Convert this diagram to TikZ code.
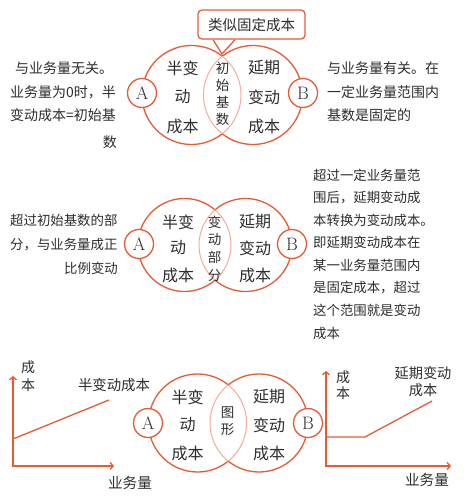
\documentclass[tikz,border=0pt]{standalone}
\usepackage{fontspec}
\newfontfamily\cjk{Noto Sans CJK SC}
\usetikzlibrary{arrows.meta}
\definecolor{acc}{RGB}{229,92,52}
\definecolor{txt}{RGB}{45,45,45}
\newcommand{\vennpair}[4]{%
  \pgfmathsetmacro{\vennang}{acos((#2-#1)/(2*#4))}%
  \draw[vline] (#1,#3) ++(\vennang:#4) arc[start angle=\vennang, end angle=360-\vennang, radius=#4];
  \draw[vline] (#2,#3) ++(\vennang-180:#4) arc[start angle=\vennang-180, end angle=180-\vennang, radius=#4];
  \draw[lensline] (#1,#3) ++(-\vennang:#4) arc[start angle=-\vennang, end angle=\vennang, radius=#4];
  \draw[lensline] (#2,#3) ++(180-\vennang:#4) arc[start angle=180-\vennang, end angle=180+\vennang, radius=#4];
}
\tikzset{
  vline/.style={draw=acc, line width=1.3pt},
  lensline/.style={draw=acc!50, line width=1pt},
  abcirc/.style={circle, draw=acc, line width=1.3pt, fill=white, minimum size=29pt, inner sep=0pt, font=\fontsize{18}{18}\selectfont, text=txt},
  vtext/.style={font=\cjk\fontsize{16}{16}\selectfont, text=txt, inner sep=0pt},
  lenstext/.style={font=\cjk\fontsize{13.5}{17}\selectfont, text=txt, align=center, inner sep=0pt},
  side/.style={font=\cjk\fontsize{14}{14}\selectfont, text=txt, inner sep=0pt},
  sidem/.style={font=\cjk\fontsize{13.4}{13.4}\selectfont, text=txt, inner sep=0pt},
  axis/.style={draw=acc, line width=1.3pt},
  axisarrows/.style={axis, >={Straight Barb[length=3pt,width=7pt]}, <->},
  calloutbox/.style={draw=acc, line width=1.3pt, fill=white, rounded corners=4pt, minimum width=107pt, minimum height=29pt, inner sep=0pt, font=\cjk\fontsize{14.5}{14.5}\selectfont, text=txt},
}
\begin{document}
\begin{tikzpicture}[x=1pt,y=-1pt]
\useasboundingbox[fill=white] (0,0) rectangle (469,500);

% ---------- top ----------
\vennpair{191.5}{253}{95}{49.5}
\node[calloutbox] (call) at (251.5,24.5) {类似固定成本};
\coordinate (calltip) at (222,54);
\coordinate (callL) at ([xshift=-38.5pt]call.south);
\coordinate (callR) at ([xshift=-16.5pt]call.south);
\fill[white] ([yshift=-1pt]callL) -- (calltip) -- ([yshift=-1pt]callR) -- cycle;
\draw[vline, line join=miter] (callL) -- (calltip) -- (callR);
\node[abcirc] (A1) at (142,93) {A};
\node[abcirc] (B1) at (303,93) {B};
\node[vtext] (t1a) at (182.5,68) {半变};
\node[vtext] (t1b) at (182.5,97) {动};
\node[vtext] (t1c) at (182.5,126) {成本};
\node[lenstext] (t1l) at (222.5,94) {初\\始\\基\\数};
\node[vtext] (t1d) at (264,68) {延期};
\node[vtext] (t1e) at (264,97) {变动};
\node[vtext] (t1f) at (264,126) {成本};
\node[side, anchor=west] (lt1) at (15,68) {与业务量无关。};
\node[side, anchor=west] (lt2) at (10,92) {业务量为0时，半};
\node[side, anchor=west] (lt3) at (10,115) {变动成本=初始基};
\node[side, anchor=east] (lt4) at (117,142) {数};
\node[side, anchor=west] (rt1) at (327,68) {与业务量有关。在};
\node[side, anchor=west] (rt2) at (327,92) {一定业务量范围内};
\node[side, anchor=west] (rt3) at (327,115) {基数是固定的};

% ---------- middle ----------
\vennpair{184.5}{245.5}{245}{46.5}
\node[abcirc] (A2) at (139,244) {A};
\node[abcirc] (B2) at (292,244) {B};
\node[vtext] (t2a) at (178,222) {半变};
\node[vtext] (t2b) at (178,248) {动};
\node[vtext] (t2c) at (178,275) {成本};
\node[lenstext, font=\cjk\fontsize{13.5}{17.7}\selectfont] (t2l) at (214.5,248.5) {变\\动\\部\\分};
\node[vtext] (t2d) at (255,222) {延期};
\node[vtext] (t2e) at (255,248) {变动};
\node[vtext] (t2f) at (255,275) {成本};
\node[sidem, anchor=west] (lm1) at (10,220) {超过初始基数的部};
\node[sidem, anchor=west] (lm2) at (10,245) {分，与业务量成正};
\node[sidem, anchor=east] (lm3) at (118,268) {比例变动};
\node[sidem, anchor=west] (rm1) at (313,175) {超过一定业务量范};
\node[sidem, anchor=west] (rm2) at (313,197.6) {围后，延期变动成};
\node[sidem, anchor=west] (rm3) at (313,220.2) {本转换为变动成本。};
\node[sidem, anchor=west] (rm4) at (313,242.8) {即延期变动成本在};
\node[sidem, anchor=west] (rm5) at (313,265.4) {某一业务量范围内};
\node[sidem, anchor=west] (rm6) at (313,288) {是固定成本，超过};
\node[sidem, anchor=west] (rm7) at (313,310.6) {这个范围就是变动};
\node[sidem, anchor=west] (rm8) at (313,333.2) {成本};

% ---------- bottom ----------
\vennpair{197.5}{259}{423}{49}
\node[abcirc] (A3) at (148,423) {A};
\node[abcirc] (B3) at (308,423) {B};
\node[vtext] (t3a) at (187.5,397) {半变};
\node[vtext] (t3b) at (187.5,425) {动};
\node[vtext] (t3c) at (187.5,453) {成本};
\node[lenstext] (t3l) at (227.5,421.5) {图\\形};
\node[vtext] (t3d) at (269,397) {延期};
\node[vtext] (t3e) at (269,425) {变动};
\node[vtext] (t3f) at (269,453) {成本};

% left graph
\coordinate (lo) at (13,466);
\coordinate (ly) at (13,376);
\coordinate (lx) at (114,466);
\draw[axisarrows] (ly) -- (lo) -- (lx);
\coordinate (l1) at (13,439);
\coordinate (l2) at (109,400);
\draw[axis] (l1) -- (l2);
\node[lenstext, font=\cjk\fontsize{14}{17.5}\selectfont] (ly1) at (28,376) {成\\本};
\node[side, font=\cjk\fontsize{14.4}{14.4}\selectfont] (ll1) at (114,385) {半变动成本};
\node[side, font=\cjk\fontsize{14.6}{14.6}\selectfont] (lx1) at (130,483) {业务量};

% right graph
\coordinate (ro) at (326,466);
\coordinate (ry) at (326,371);
\coordinate (rx) at (451,466);
\draw[axisarrows] (ry) -- (ro) -- (rx);
\coordinate (r1) at (326,437);
\coordinate (r2) at (365,437);
\coordinate (r3) at (432,401);
\draw[axis] (r1) -- (r2) -- (r3);
\node[lenstext, font=\cjk\fontsize{14}{16.5}\selectfont] (ry1) at (343,385) {成\\本};
\node[lenstext, font=\cjk\fontsize{14.2}{17}\selectfont] (rl1) at (423,381.5) {延期变动\\成本};
\node[side, font=\cjk\fontsize{14.6}{14.6}\selectfont] (rx1) at (427,480) {业务量};
\end{tikzpicture}
\end{document}
